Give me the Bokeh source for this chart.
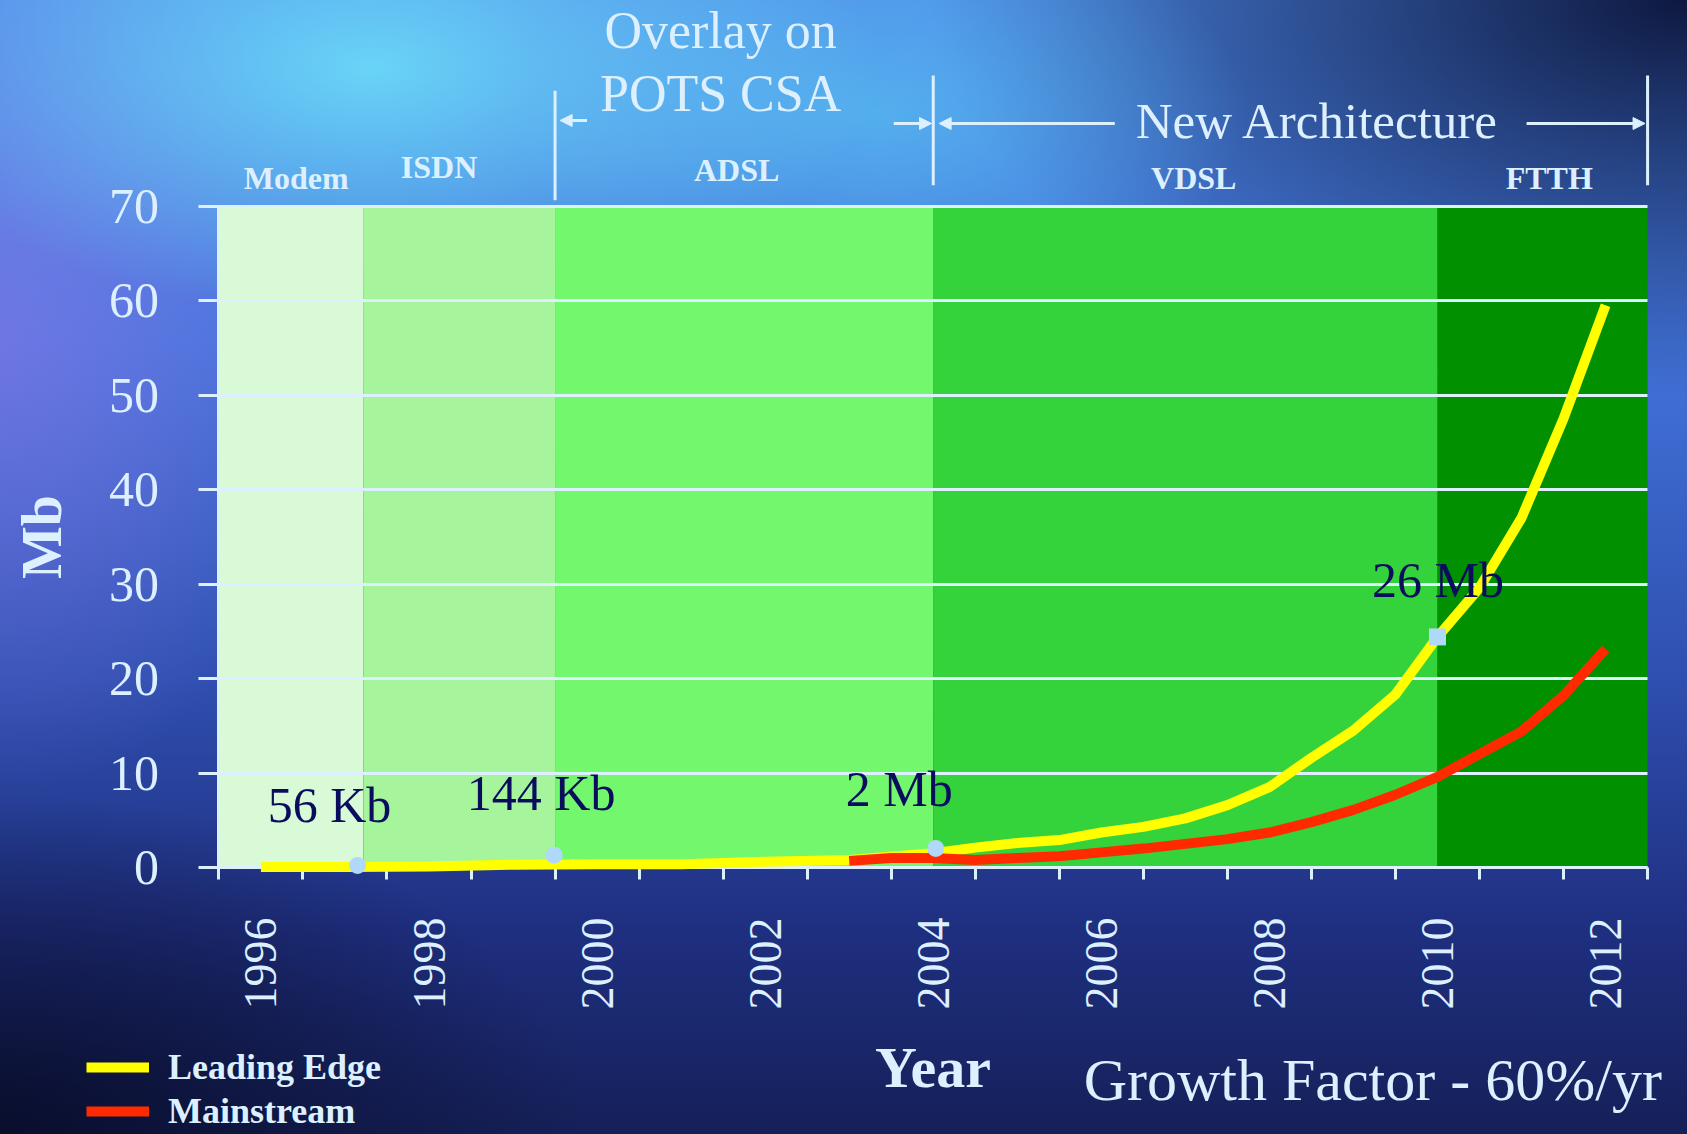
import numpy as np
from bokeh.plotting import figure
from bokeh.models import (Range1d, FixedTicker, Legend, LegendItem, Label, Arrow,
                          NormalHead, ColumnDataSource)
from bokeh.embed import file_html
from bokeh.resources import INLINE
from bokeh.core.properties import value

# ---------------- data ----------------
years = list(range(1996, 2013))
x_label_years = [1996, 1998, 2000, 2002, 2004, 2006, 2008, 2010, 2012]
y_ticks = [0, 10, 20, 30, 40, 50, 60, 70]

lead_name = "Leading Edge"
lead_years = [1996, 1997, 1998, 1999, 2000, 2001, 2002, 2003, 2004, 2004.5, 2005,
              2005.5, 2006, 2006.5, 2007, 2007.5, 2008, 2008.5, 2009, 2009.5,
              2010, 2010.5, 2011, 2011.5, 2012]
lead_mb = [0.06, 0.06, 0.1, 0.3, 0.35, 0.35, 0.6, 0.8, 1.5, 2.1, 2.6,
           2.9, 3.7, 4.3, 5.2, 6.6, 8.5, 11.6, 14.5, 18.3,
           24.4, 29.6, 37.0, 47.5, 59.5]

main_name = "Mainstream"
main_years = [2003, 2003.5, 2004, 2004.5, 2005, 2005.5, 2006, 2006.5, 2007, 2007.5,
              2008, 2008.5, 2009, 2009.5, 2010, 2010.5, 2011, 2011.5, 2012]
main_mb = [0.7, 1.0, 1.0, 0.8, 1.0, 1.2, 1.6, 2.0, 2.5, 3.0,
           3.7, 4.8, 6.1, 7.7, 9.6, 12.0, 14.4, 18.2, 23.1]

band_names = ["Modem", "ISDN", "ADSL", "VDSL", "FTTH"]
band_start = [1995.5, 1997.22, 1999.5, 2004.0, 2010.0]
band_end = [1997.22, 1999.5, 2004.0, 2010.0, 2012.5]
band_colors = ["#d8fad6", "#a6f59c", "#73f76c", "#35d33b", "#009000"]
band_label_x = [1996.42, 1998.12, 2001.66, 2007.1, 2011.33]
band_label_y = [72.95, 74.1, 73.8, 72.95, 72.95]

milestone_years = [1997.15, 1999.49, 2004.03, 2010.0]
milestone_mb = [0.2, 1.3, 2.0, 24.4]
milestone_marker = ["circle", "circle", "circle", "square"]
milestone_text = ["56 Kb", "144 Kb", "2 Mb", "26 Mb"]
milestone_text_x = [1996.08, 1998.45, 2002.96, 2009.22]
milestone_text_y = [6.6, 7.9, 8.27, 30.4]

y_min, y_max = 0, 70
x_min, x_max = 1995.5, 2012.5

# ---------------- layout constants (pixels) ----------------
W, H = 1687, 1134
PLOT_LEFT_PX = 218.4      # where x = 1995.5 sits
PLOT_BOTTOM_PX = 867.0    # where y = 0 sits
PX_PER_YEAR = 84.04
PX_PER_MB = 9.45

LIGHT = "#dcf0ff"
NAVY = "#0a0d5e"
SERIF = "Liberation Serif"

view_x = Range1d(x_min - PLOT_LEFT_PX / PX_PER_YEAR,
                 x_min + (W - PLOT_LEFT_PX) / PX_PER_YEAR)
view_y = Range1d(y_min - (H - PLOT_BOTTOM_PX) / PX_PER_MB,
                 y_min + PLOT_BOTTOM_PX / PX_PER_MB)

p = figure(width=W, height=H, output_backend="svg", toolbar_location=None,
           x_range=view_x, y_range=view_y, min_border=0)

p.styles = {
    "background": (
        "radial-gradient(ellipse 30% 22% at 22% 6%, rgba(110,225,250,0.85), rgba(110,225,250,0) 100%),"
        "radial-gradient(ellipse 22% 18% at 52% 10%, rgba(90,205,245,0.6), rgba(90,205,245,0) 100%),"
        "radial-gradient(ellipse 45% 35% at 100% 0%, rgba(10,18,55,0.95), rgba(10,18,55,0) 100%),"
        "radial-gradient(ellipse 35% 30% at 0% 100%, rgba(8,12,40,0.9), rgba(8,12,40,0) 100%),"
        "radial-gradient(ellipse 20% 40% at 0% 30%, rgba(140,120,235,0.6), rgba(140,120,235,0) 100%),"
        "linear-gradient(to bottom, #4f8ae8 0%, #4274da 30%, #2f4fb0 60%, #1f2f80 82%, #152058 100%)"
    )
}
p.border_fill_alpha = 0
p.background_fill_alpha = 0
p.outline_line_color = None
p.xgrid.visible = False
p.ygrid.visible = False

# bands
band_src = ColumnDataSource(dict(left=band_start, right=band_end, color=band_colors,
                                 bottom=[y_min] * 5, top=[y_max] * 5))
p.quad(left="left", right="right", bottom="bottom", top="top", fill_color="color",
       line_color=None, source=band_src, level="image")

# series (above the axis guide lines)
r_lead = p.line(lead_years, lead_mb, line_color="#ffff00", line_width=10, level="overlay")
r_main = p.line(main_years, main_mb, line_color="#ff2a00", line_width=10, level="overlay")

# milestones
p.scatter(milestone_years, milestone_mb, marker=milestone_marker, size=17,
          fill_color="#b0d8f8", line_color=None, level="overlay")
p.text(milestone_text_x, milestone_text_y, text=milestone_text, text_color=NAVY,
       text_font=value(SERIF), text_font_size="50px", text_align="left",
       text_baseline="middle", level="overlay")

# axes, pinned at the data origin
xa = p.xaxis[0]
xa.fixed_location = y_min
xa.bounds = (x_min, x_max)
xa.ticker = FixedTicker(ticks=x_label_years, minor_ticks=[y - 0.5 for y in years] + [x_max])
xa.major_tick_line_color = None
xa.minor_tick_line_color = LIGHT
xa.minor_tick_line_width = 3
xa.minor_tick_out = 12
xa.minor_tick_in = 0
xa.axis_line_color = LIGHT
xa.axis_line_width = 3
xa.major_label_orientation = np.pi / 2
xa.major_label_text_font = SERIF
xa.major_label_text_font_size = "46px"
xa.major_label_text_color = LIGHT
xa.major_label_standoff = 38
xa.axis_label = "Year"
xa.axis_label_text_font = SERIF
xa.axis_label_text_font_size = "58px"
xa.axis_label_text_font_style = "bold"
xa.axis_label_text_color = LIGHT
xa.axis_label_standoff = 22

ya = p.yaxis[0]
ya.fixed_location = x_min
ya.bounds = (y_min, y_max)
ya.ticker = FixedTicker(ticks=y_ticks)
ya.major_tick_line_color = LIGHT
ya.major_tick_line_width = 3
ya.major_tick_out = 20
ya.major_tick_in = int(round((x_max - x_min) * PX_PER_YEAR))   # ticks run across as the grid
ya.minor_tick_line_color = None
ya.axis_line_color = LIGHT
ya.axis_line_width = 3
ya.major_label_text_font = SERIF
ya.major_label_text_font_size = "50px"
ya.major_label_text_color = LIGHT
ya.major_label_standoff = 40
ya.axis_label = "Mb"
ya.axis_label_text_font = SERIF
ya.axis_label_text_font_size = "56px"
ya.axis_label_text_font_style = "bold"
ya.axis_label_text_color = LIGHT
ya.axis_label_standoff = 33

# band labels above the plot
for name, bx, by in zip(band_names, band_label_x, band_label_y):
    p.add_layout(Label(x=bx, y=by, text=name, text_color=LIGHT, text_font=SERIF,
                       text_font_size="32px", text_font_style="bold",
                       text_align="center", text_baseline="alphabetic"))

def lab(x, y, t, size, align="center"):
    p.add_layout(Label(x=x, y=y, text=t, text_color=LIGHT, text_font=SERIF,
                       text_font_size=size, text_align=align, text_baseline="alphabetic"))

lab(2001.47, 88.6, "Overlay on", "52px")
lab(2001.47, 81.9, "POTS CSA", "52px")
lab(2006.41, 79.0, "New Architecture", "51px", "left")
lab(2005.79, -22.5, "Growth Factor - 60%/yr", "60px", "left")

def seg(x0, y0, x1, y1, head=False):
    p.add_layout(Arrow(x_start=x0, y_start=y0, x_end=x1, y_end=y1,
                       line_color=LIGHT, line_width=3, start=None,
                       end=NormalHead(size=12, fill_color=LIGHT, line_color=LIGHT) if head else None))

seg(1999.5, 70.6, 1999.5, 82.2)
seg(2004.0, 72.2, 2004.0, 83.8)
seg(2012.5, 72.2, 2012.5, 83.8)
seg(1999.88, 79.05, 1999.56, 79.05, True)
seg(2003.53, 78.73, 2003.98, 78.73, True)
seg(2006.16, 78.73, 2004.07, 78.73, True)
seg(2011.06, 78.73, 2012.47, 78.73, True)

# legend (bottom-left corner in screen pixels from the canvas bottom-left)
legend = Legend(items=[LegendItem(label=lead_name, renderers=[r_lead]),
                       LegendItem(label=main_name, renderers=[r_main])],
                location=(86, 1), orientation="vertical",
                glyph_width=63, glyph_height=44, label_height=44, spacing=0,
                padding=0, margin=0, label_standoff=19,
                label_text_font=SERIF, label_text_font_size="36px",
                label_text_font_style="bold", label_text_color=LIGHT,
                background_fill_alpha=0, border_line_alpha=0)
p.add_layout(legend)

open("out.html", "w").write(file_html(p, INLINE, title="Bandwidth growth"))
